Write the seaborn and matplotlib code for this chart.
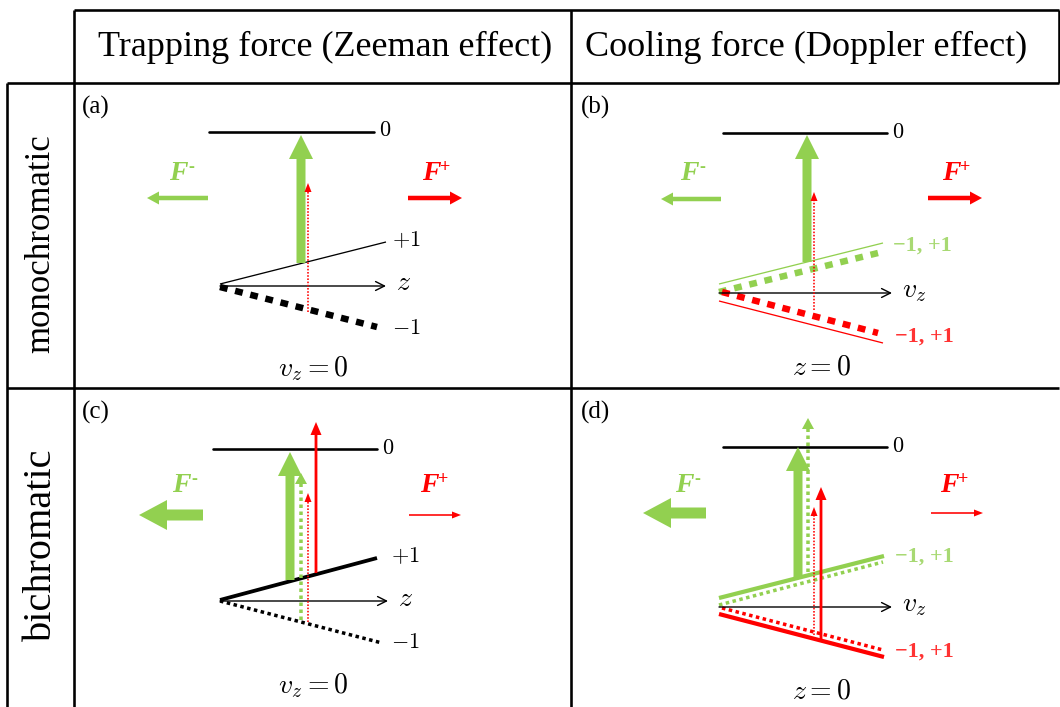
import matplotlib
matplotlib.use('Agg')
import matplotlib.pyplot as plt
import matplotlib.patches as mpatches
import seaborn as sns

GREEN = '#92D050'
RED = '#FF0000'

# table texts
col_titles = ['Trapping force (Zeeman effect)', 'Cooling force (Doppler effect)']
row_titles = ['monochromatic', 'bichromatic']
panel_tags = ['(a)', '(b)', '(c)', '(d)']
axis_names = ['$z$', '$v_z$', '$z$', '$v_z$']
bottom_notes = ['$v_z = 0$', '$z = 0$', '$v_z = 0$', '$z = 0$']

# diagram geometry (pixel units), panels a, b, c, d
tag_xy = [(82, 107), (581, 107), (82, 412), (581, 412)]
level0_x = [(209, 374), (723, 887), (213, 377), (723, 887)]
level0_y = [132, 133, 449, 447]
axis_x = [(220, 386), (719, 892), (220, 388), (719, 892)]
axis_y = [286, 293, 601, 607]
note_xy = [(313, 369), (822, 368), (313, 686), (822, 692)]
fminus_xy = [(182, 174), (693, 174), (185, 486), (688, 486)]
fplus_xy = [(435, 174), (955, 174), (433, 486), (953, 486)]

# sloped sublevels: start / end points, and how each one is drawn
sub_x0 = [220, 220, 719, 719, 722, 719, 220, 220, 719, 719, 722, 719]
sub_y0 = [284, 287, 284, 292, 292, 301, 600, 601, 598, 605, 608, 614]
sub_x1 = [386, 377, 883, 878, 878, 883, 377, 382, 884, 883, 883, 884]
sub_y1 = [242, 327, 243, 253, 333, 343, 558, 643, 556, 562, 650, 657]
sub_kind = ['k_thin', 'k_dash', 'g_thin', 'g_dash', 'r_dash', 'r_thin',
            'k_thick', 'k_dot', 'g_thick', 'g_dot', 'r_dot', 'r_thick']

# sublevel labels
mlabel_text = ['$+1$', '$-1$', '\u22121, +1', '\u22121, +1',
               '$+1$', '$-1$', '\u22121, +1', '\u22121, +1']
mlabel_xy = [(392, 241), (392, 330), (893, 246), (895, 337),
             (391, 557), (391, 643), (895, 557), (895, 652)]
mlabel_col = ['black', 'black', GREEN, RED, 'black', 'black', GREEN, RED]

# vertical transitions: x, from y, to y, kind
trans_x = [301, 308, 807, 814, 290, 301, 308, 316, 798, 808, 821, 814]
trans_y0 = [263, 312, 262, 310, 580, 620, 622, 573, 577, 572, 640, 635]
trans_y1 = [135, 183, 135, 192, 452, 473, 493, 422, 447, 418, 487, 507]
trans_kind = ['big', 'rdot', 'big', 'rdot', 'big', 'gdot', 'rdot', 'rline',
              'big', 'gdot', 'rline', 'rdot']

# force arrows: start x, end x, y, kind
force_x0 = [208, 408, 721, 928, 203, 409, 706, 931]
force_x1 = [147, 462, 661, 982, 139, 461, 643, 983]
force_y = [198, 198, 199, 198, 515, 515, 513, 513]
force_kind = ['gmid', 'rmid', 'gmid', 'rmid', 'gbig', 'rthin', 'gbig', 'rthin']

line_styles = {
    'k_thin': ('black', 1.3, '-'), 'k_dash': ('black', 6.5, (0, (1.2, 1.2))),
    'g_thin': (GREEN, 1.3, '-'), 'g_dash': (GREEN, 6.5, (0, (1.2, 1.2))),
    'r_thin': (RED, 1.3, '-'), 'r_dash': (RED, 6.5, (0, (1.2, 1.2))),
    'k_thick': ('black', 3.8, '-'), 'k_dot': ('black', 3.5, (0, (1, 1))),
    'g_thick': (GREEN, 4.2, '-'), 'g_dot': (GREEN, 3.5, (0, (1, 1))),
    'r_thick': (RED, 4.2, '-'), 'r_dot': (RED, 3.5, (0, (1, 1))),
}
# color, width, head width, head length, dotted
arrow_styles = {
    'big': (GREEN, 9, 24, 24, False), 'rdot': (RED, 1.6, 7, 9, True),
    'gdot': (GREEN, 3.5, 12, 11, True), 'rline': (RED, 2.8, 11, 13, False),
    'gmid': (GREEN, 4.5, 13, 12, False), 'rmid': (RED, 4.5, 13, 12, False),
    'gbig': (GREEN, 11, 30, 28, False), 'rthin': (RED, 1.6, 7, 9, False),
}

sns.set_theme(style='white')
plt.rcParams['font.family'] = ['Liberation Serif', 'DejaVu Serif']
plt.rcParams['mathtext.fontset'] = 'cm'
plt.rcParams['text.color'] = 'black'

fig = plt.figure(figsize=(10.6, 7.07), dpi=100)
ax = fig.add_axes([0, 0, 1, 1])
PT = 0.72  # px -> pt at 100 dpi


def arrow(x0, y0, x1, y1, kind):
    color, w, hw, hl, dotted = arrow_styles[kind]
    L = ((x1 - x0) ** 2 + (y1 - y0) ** 2) ** 0.5
    ux, uy = (x1 - x0) / L, (y1 - y0) / L
    if dotted:
        bx, by = x1 - ux * hl, y1 - uy * hl
        ax.plot([x0, bx], [y0, by], color=color, lw=w * PT,
                linestyle=(0, (1, 1)), dash_capstyle='butt', zorder=4)
        ax.add_patch(mpatches.FancyArrow(bx, by, ux * hl, uy * hl, width=0.01,
                                         head_width=hw, head_length=hl,
                                         length_includes_head=True,
                                         color=color, lw=0, zorder=4))
    else:
        ax.add_patch(mpatches.FancyArrow(x0, y0, x1 - x0, y1 - y0, width=w,
                                         head_width=hw, head_length=hl,
                                         length_includes_head=True,
                                         color=color, lw=0, zorder=4))


# table grid
grid_lw = 2.6 * PT
ax.hlines([10], 74, 1059, color='black', lw=grid_lw)
ax.hlines([83, 388], 7, 1059, color='black', lw=grid_lw)
ax.vlines([74, 571], 10, 707, color='black', lw=grid_lw)
ax.vlines([7], 83, 707, color='black', lw=grid_lw)
ax.vlines([1059], 10, 83, color='black', lw=grid_lw)

for t, cx in zip(col_titles, [325, 806]):
    ax.text(cx, 47, t, ha='center', va='center', fontsize=26)
for t, cy, fs in zip(row_titles, [244, 545], [25, 29]):
    ax.text(41, cy, t, ha='center', va='center', fontsize=fs, rotation=90)

# sloped levels drawn with seaborn
for x0, y0, x1, y1, k in zip(sub_x0, sub_y0, sub_x1, sub_y1, sub_kind):
    c, w, ls = line_styles[k]
    sns.lineplot(x=[x0, x1], y=[y0, y1], ax=ax, color=c, linewidth=w * PT,
                 linestyle=ls, dash_capstyle='butt', solid_capstyle='butt',
                 estimator=None, legend=False, zorder=3)

for i in range(4):
    tx, ty = tag_xy[i]
    ax.text(tx, ty, panel_tags[i], ha='left', va='center', fontsize=18)
    xa, xb = level0_x[i]
    sns.lineplot(x=[xa, xb], y=[level0_y[i], level0_y[i]], ax=ax, color='black',
                 linewidth=2.6 * PT, estimator=None, legend=False, zorder=3)
    ax.text(xb + 5, level0_y[i], '$0$', ha='left', va='center', fontsize=16)
    # z / v_z axis
    a0, a1 = axis_x[i]
    ax.annotate('', xy=(a1, axis_y[i]), xytext=(a0, axis_y[i]),
                arrowprops=dict(arrowstyle='->', lw=1.0, color='black',
                                shrinkA=0, shrinkB=0, mutation_scale=16), zorder=3)
    lx, ly = a1 + 10, axis_y[i] - 2
    ax.text(lx, ly, axis_names[i], ha='left', va='center', fontsize=20)
    nx, ny = note_xy[i]
    ax.text(nx, ny, bottom_notes[i], ha='center', va='center', fontsize=20)
    fx, fy = fminus_xy[i]
    ax.text(fx - 4, fy, 'F', color=GREEN, fontsize=20, fontweight='bold',
            fontstyle='italic', ha='center', va='center')
    ax.text(fx + 6, fy - 7, '-', color=GREEN, fontsize=13, fontweight='bold',
            ha='left', va='center')
    fx, fy = fplus_xy[i]
    ax.text(fx - 4, fy, 'F', color=RED, fontsize=20, fontweight='bold',
            fontstyle='italic', ha='center', va='center')
    ax.text(fx + 5, fy - 7, '+', color=RED, fontsize=13, fontweight='bold',
            ha='left', va='center')

for t, (mx, my), c in zip(mlabel_text, mlabel_xy, mlabel_col):
    if c == 'black':
        ax.text(mx, my, t, ha='left', va='center', fontsize=16, color=c)
    else:
        ax.text(mx, my, t, ha='left', va='center', fontsize=16, color=c,
                fontweight='bold', alpha=0.8)

for x, y0, y1, k in zip(trans_x, trans_y0, trans_y1, trans_kind):
    arrow(x, y0, x, y1, k)
for x0, x1, y, k in zip(force_x0, force_x1, force_y, force_kind):
    arrow(x0, y, x1, y, k)

ax.set_xlim(0, 1060)
ax.set_ylim(707, 0)
ax.axis('off')
fig.savefig('out.png', dpi=100, facecolor='white')
